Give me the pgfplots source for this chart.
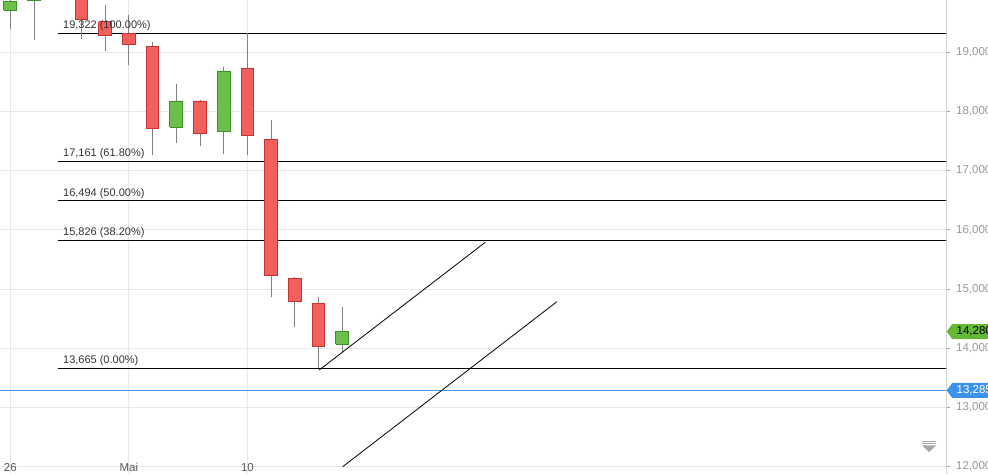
\documentclass[border=0pt]{standalone}
\usepackage{fontspec}
\setmainfont{Liberation Sans}
\usepackage{pgfplots}
\pgfplotsset{compat=1.18}

\definecolor{gridc}{HTML}{E8E8E8}
\definecolor{axisc}{HTML}{D6D6D6}
\definecolor{wickc}{HTML}{808080}
\definecolor{upfill}{HTML}{6CC04A}
\definecolor{updraw}{HTML}{3E8E2A}
\definecolor{dnfill}{HTML}{F25F5C}
\definecolor{dndraw}{HTML}{C43434}
\definecolor{bluec}{HTML}{4A94E6}
\definecolor{tagG}{HTML}{64B937}
\definecolor{tagB}{HTML}{3C91EB}

% x, open, high, low, close, style
\newcommand{\candle}[6]{%
  \addplot[wickc, line width=0.9pt] coordinates {(#1,#4) (#1,#3)};
  \addplot[#6, line width=0.9pt] coordinates
    {({#1-0.268},#2) ({#1+0.268},#2) ({#1+0.268},#5) ({#1-0.268},#5) ({#1-0.268},#2)};
}

\begin{document}
\begin{tikzpicture}
\begin{axis}[
    at={(0,0)}, anchor=south west,
    scale only axis,
    width=946pt, height=474pt,
    xmin=-0.434, xmax=39.46,
    ymin=11873, ymax=19884,
    axis x line*=bottom, axis y line*=right,
    x axis line style={draw=none},
    y axis line style={draw=axisc, line width=0.9pt, -},
    xtick={0,5,10}, xticklabels={26,Mai,10},
    ytick={12000,13000,...,19000},
    scaled y ticks=false,
    grid=major,
    major grid style={gridc, line width=0.9pt},
    xtick style={draw=none},
    ytick style={draw=gray!70, line width=0.8pt},
    tick align=outside,
    major tick length=4pt,
    /pgf/number format/assume math mode=true,
    /pgf/number format/1000 sep={,},
    tick label style={font=\fontsize{11.5}{13}\selectfont},
    xticklabel style={anchor=center, yshift=10.5pt, text=black!65},
    yticklabel style={anchor=west, inner sep=0pt, xshift=6pt, text=black!40},
]
% Fibonacci levels
\addplot[black, line width=0.9pt] coordinates {(2.01,19322) (40,19322)};
\addplot[black, line width=0.9pt] coordinates {(2.01,17161) (40,17161)};
\addplot[black, line width=0.9pt] coordinates {(2.01,16494) (40,16494)};
\addplot[black, line width=0.9pt] coordinates {(2.01,15826) (40,15826)};
\addplot[black, line width=0.9pt] coordinates {(2.01,13665) (40,13665)};

% current price line
\addplot[bluec, line width=0.9pt] coordinates {(-1,13285) (40,13285)};

% candles
\candle{0}{19710}{19950}{19389}{19860}{draw=updraw, fill=upfill}
\candle{1}{19870}{20150}{19213}{20050}{draw=updraw, fill=upfill}
\candle{2}{20400}{20500}{19950}{20100}{draw=dndraw, fill=dnfill}
\candle{3}{20000}{20150}{19230}{19558}{draw=dndraw, fill=dnfill}
\candle{4}{19517}{19799}{19022}{19292}{draw=dndraw, fill=dnfill}
\candle{5}{19321}{19630}{18790}{19135}{draw=dndraw, fill=dnfill}
\candle{6}{19106}{19174}{17259}{17716}{draw=dndraw, fill=dnfill}
\candle{7}{17732}{18464}{17472}{18177}{draw=updraw, fill=upfill}
\candle{8}{18177}{18194}{17422}{17631}{draw=dndraw, fill=dnfill}
\candle{9}{17658}{18747}{17287}{18684}{draw=updraw, fill=upfill}
\candle{10}{18730}{19322}{17264}{17597}{draw=dndraw, fill=dnfill}
\candle{11}{17530}{17856}{14859}{15231}{draw=dndraw, fill=dnfill}
\candle{12}{15181}{15202}{14363}{14785}{draw=dndraw, fill=dnfill}
\candle{13}{14758}{14859}{13665}{14025}{draw=dndraw, fill=dnfill}
\candle{14}{14065}{14690}{13930}{14280}{draw=updraw, fill=upfill}

% trend channel
\addplot[black, line width=0.8pt] coordinates {(13.03,13631) (20.03,15789)};
\addplot[black, line width=0.8pt] coordinates {(14.02,11997) (23.05,14785)};

% level labels
\begin{scope}[every node/.style={anchor=base west, inner sep=0pt, yshift=4.5pt,
    text=black!80, font=\fontsize{11}{13}\selectfont}]
\node at (axis cs:2.22,19322) {19,322 (100.00\%)};
\node at (axis cs:2.22,17161) {17,161 (61.80\%)};
\node at (axis cs:2.22,16494) {16,494 (50.00\%)};
\node at (axis cs:2.22,15826) {15,826 (38.20\%)};
\node at (axis cs:2.22,13665) {13,665 (0.00\%)};
\end{scope}

\coordinate (gt) at (axis cs:39.46,14280);
\coordinate (bt) at (axis cs:39.46,13285);
\end{axis}

% price tags
\fill[tagG] ([xshift=0.7pt]gt) -- ++(5.5pt,7.5pt) -- ++(50pt,0) -- ++(0,-15pt) -- ++(-50pt,0) -- cycle;
\node[anchor=west, inner sep=0pt, font=\fontsize{11.5}{13}\selectfont, text=black] at ([xshift=10.5pt]gt) {14,280};
\fill[tagB] ([xshift=0.7pt]bt) -- ++(5.5pt,7.5pt) -- ++(50pt,0) -- ++(0,-15pt) -- ++(-50pt,0) -- cycle;
\node[anchor=west, inner sep=0pt, font=\fontsize{11.5}{13}\selectfont, text=white] at ([xshift=10.5pt]bt) {13,285};

% scroll icon
\draw[black!35, line width=0.9pt] (922pt,33pt) -- (936pt,33pt);
\draw[black!35, line width=0.9pt] (922pt,30.5pt) -- (936pt,30.5pt);
\fill[black!35] (922pt,28.5pt) -- (936pt,28.5pt) -- (929pt,22pt) -- cycle;

\pgfresetboundingbox
\path[use as bounding box] (0,0) rectangle (988pt,474pt);
\end{tikzpicture}
\end{document}
